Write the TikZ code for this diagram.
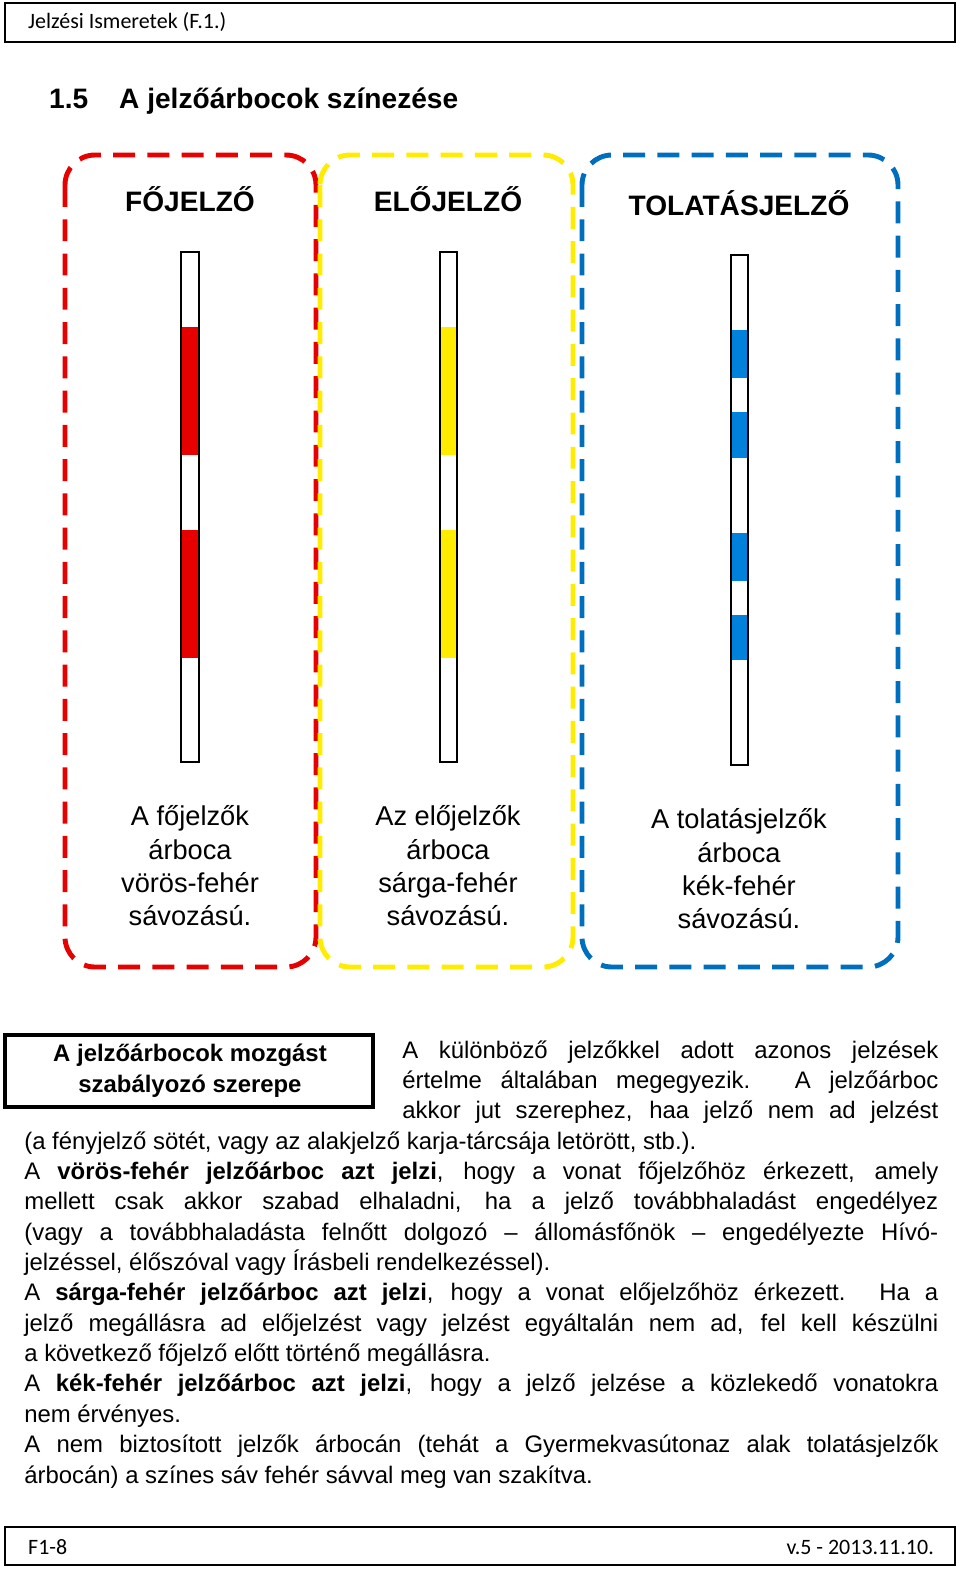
\documentclass[tikz,border=0pt]{standalone}
\usepackage{fontspec}
\setmainfont{Liberation Sans}
\newfontfamily\hdfont{Carlito}
\definecolor{mastred}{RGB}{230,0,0}
\definecolor{mastyellow}{RGB}{255,236,0}
\definecolor{mastblue}{RGB}{0,130,220}
\definecolor{boxblue}{RGB}{0,110,190}
\newcommand{\jline}[3]{\node[anchor=base west, inner sep=0pt] (#1) at (24,#2) {\hbox to 914\pxu{#3}};}
\newcommand{\rline}[3]{\node[anchor=base west, inner sep=0pt] (#1) at (402,#2) {\hbox to 536\pxu{#3}};}
\newcommand{\lline}[3]{\node[anchor=base west, inner sep=0pt] (#1) at (24,#2) {#3};}
\newdimen\pxu \pxu=0.02cm
\begin{document}
\begin{tikzpicture}[x=0.02cm, y=-0.02cm,
  frame box/.style={draw, line width=1.2pt},
  group box/.style={line width=2.8pt, rounded corners=0.6cm, dash pattern=on 12.5pt off 7pt},
  pole/.style={draw, line width=1.4pt, fill=white},
  heading/.style={font=\fontsize{16}{18}\selectfont\bfseries},
  caption/.style={align=center, font=\fontsize{15.5}{19}\selectfont},
  body/.style={font=\fontsize{13.6}{17}\selectfont}]
  \useasboundingbox (0,0) rectangle (960,1570);
  % page header and footer
  \draw[frame box] (5,3) rectangle (955,42);
  \node[anchor=west, font=\hdfont\fontsize{12.5}{14}\selectfont] (header) at (22,22) {Jelzési Ismeretek (F.1.)};
  \draw[frame box] (5,1527) rectangle (955,1565);
  \node[anchor=west, font=\hdfont\fontsize{12.5}{14}\selectfont] (pagenum) at (22,1547) {F1-8};
  \node[anchor=east, font=\hdfont\fontsize{12.5}{14}\selectfont] (version) at (940,1547) {v.5 - 2013.11.10.};
  \node[anchor=west, heading] (title) at (43,101) {1.5\hspace{1.1em}A jelzőárbocok színezése};

  % dashed group boxes
  \draw[group box, mastred] (65,155) rectangle (316,967);
  \draw[group box, mastyellow] (320,155) rectangle (573,967);
  \draw[group box, boxblue] (582,155) rectangle (898,967);

  \node[heading] (mainhead) at (190,199) {FŐJELZŐ};
  \node[heading] (prehead) at (448,199) {ELŐJELZŐ};
  \node[heading] (shunthead) at (739,203) {TOLATÁSJELZŐ};

  % poles
  \draw[pole] (181,252) rectangle (199,762);
  \fill[mastred] (182,327) rectangle (198,455);
  \fill[mastred] (182,530) rectangle (198,658);
  \draw[line width=1.4pt] (181,252) rectangle (199,762);

  \draw[pole] (440,252) rectangle (457,762);
  \fill[mastyellow] (441,327) rectangle (456,455);
  \fill[mastyellow] (441,530) rectangle (456,658);
  \draw[line width=1.4pt] (440,252) rectangle (457,762);

  \draw[pole] (731,255) rectangle (748,765);
  \foreach \ya/\yb in {330/378, 412/458, 533/581, 615/660}
    \fill[mastblue] (732,\ya) rectangle (747,\yb);
  \draw[line width=1.4pt] (731,255) rectangle (748,765);

  \node[caption] (maincap) at (190,866) {A főjelzők\\árboca\\vörös-fehér\\sávozású.};
  \node[caption] (precap) at (448,866) {Az előjelzők\\árboca\\sárga-fehér\\sávozású.};
  \node[caption] (shuntcap) at (739,869) {A tolatásjelzők\\árboca\\kék-fehér\\sávozású.};

  % text box and body text
  \draw[line width=2.2pt] (5,1035) rectangle (373,1107);
  \node[align=center, font=\fontsize{13.6}{17.5}\selectfont\bfseries] (rolebox) at (190,1071) {A jelzőárbocok mozgást\\szabályozó szerepe};
  \begin{scope}[body]
    \rline{t1}{1058}{A különböző jelzőkkel adott azonos jelzések}
    \rline{t2}{1088}{értelme általában megegyezik. A jelzőárboc}
    \rline{t3}{1118}{akkor jut szerephez, haa jelző nem ad jelzést}
    \lline{t4}{1149}{(a fényjelző sötét, vagy az alakjelző karja-tárcsája letörött, stb.).}
    \jline{t5}{1179}{A \textbf{vörös-fehér jelzőárboc azt jelzi}, hogy a vonat főjelzőhöz érkezett, amely}
    \jline{t6}{1209}{mellett csak akkor szabad elhaladni, ha a jelző továbbhaladást engedélyez}
    \jline{t7}{1240}{(vagy a továbbhaladásta felnőtt dolgozó – állomásfőnök – engedélyezte Hívó-}
    \lline{t8}{1270}{jelzéssel, élőszóval vagy Írásbeli rendelkezéssel).}
    \jline{t9}{1300}{A \textbf{sárga-fehér jelzőárboc azt jelzi}, hogy a vonat előjelzőhöz érkezett. Ha a}
    \jline{t10}{1331}{jelző megállásra ad előjelzést vagy jelzést egyáltalán nem ad, fel kell készülni}
    \lline{t11}{1361}{a következő főjelző előtt történő megállásra.}
    \jline{t12}{1391}{A \textbf{kék-fehér jelzőárboc azt jelzi}, hogy a jelző jelzése a közlekedő vonatokra}
    \lline{t13}{1422}{nem érvényes.}
    \jline{t14}{1452}{A nem biztosított jelzők árbocán (tehát a Gyermekvasútonaz alak tolatásjelzők}
    \lline{t15}{1483}{árbocán) a színes sáv fehér sávval meg van szakítva.}
  \end{scope}
\end{tikzpicture}
\end{document}
